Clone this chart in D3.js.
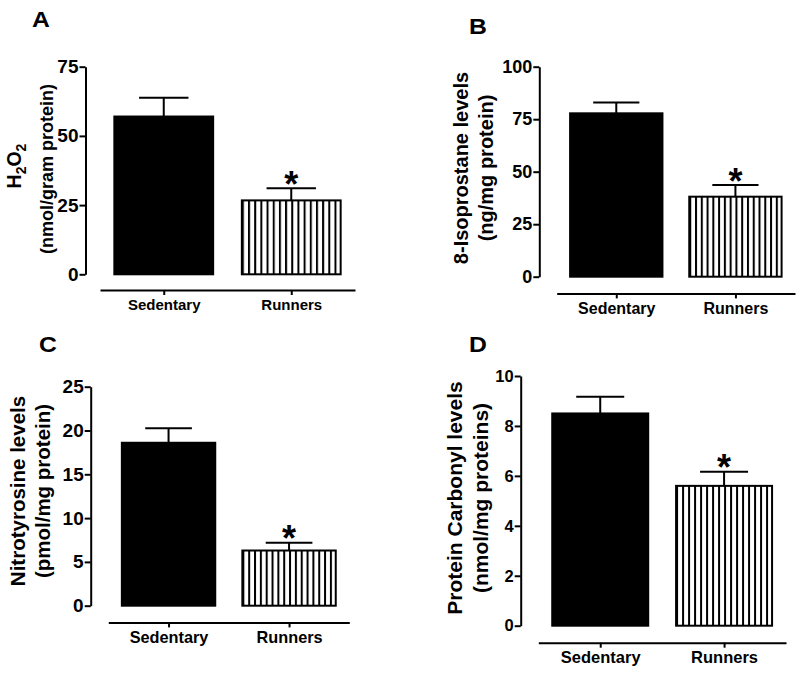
<!DOCTYPE html>
<html>
<head>
<meta charset="utf-8">
<script src="https://cdn.jsdelivr.net/npm/d3@7"></script>
<style>
  html, body { margin: 0; padding: 0; background: #fff; }
  svg { display: block; }
  text { font-family: "Liberation Sans", Arial, sans-serif; font-weight: bold; fill: #000; }
</style>
</head>
<body>
<svg id="chart" width="800" height="675"></svg>
<script>
// ---------- data ----------
const groups = ["Sedentary", "Runners"];
const panelLetters = ["A", "B", "C", "D"];

const meansA = [57.0, 26.7];
const semA   = [6.8, 4.4];
const ticksA = [0, 25, 50, 75];

const meansB = [77.8, 38.1];
const semB   = [5.1, 5.6];
const ticksB = [0, 25, 50, 75, 100];

const meansC = [18.6, 6.3];
const semC   = [1.65, 0.9];
const ticksC = [0, 5, 10, 15, 20, 25];

const meansD = [8.5, 5.6];
const semD   = [0.67, 0.57];
const ticksD = [0, 2, 4, 6, 8, 10];

const significant = [false, true];

// y-axis titles: line 1 as [text, isSubscript] segments, line 2 plain
const titleA = [[["H", false], ["2", true], ["O", false], ["2", true]], "(nmol/gram protein)"];
const titleB = [[["8-Isoprostane levels", false]], "(ng/mg protein)"];
const titleC = [[["Nitrotyrosine levels", false]], "(pmol/mg protein)"];
const titleD = [[["Protein Carbonyl levels", false]], "(nmol/mg proteins)"];

const panels = [
  { means: meansA, sem: semA, ticks: ticksA, title: titleA },
  { means: meansB, sem: semB, ticks: ticksB, title: titleB },
  { means: meansC, sem: semC, ticks: ticksC, title: titleC },
  { means: meansD, sem: semD, ticks: ticksD, title: titleD }
];

// ---------- layout ----------
const layout = [
  { yx: 85.5,  y0: 274.3, y1: 66.7,  xy: 290.0, xr: [100, 355],     letter: [32, 27],    cy: 169, cy1: 166, tx1: 21,    tx2: 52.5, tfs1: 19.5, tfs: 18,   tickFs: 19,   xFs: 15 },
  { yx: 539.3, y0: 276.7, y1: 66.7,  xy: 293.4, xr: [556.7, 795],   letter: [469, 33.5], cy: 168, cy1: 168, tx1: 467.5, tx2: 493,  tfs1: 20,   tfs: 20,   tickFs: 18,   xFs: 16 },
  { yx: 90.7,  y0: 605.7, y1: 386.7, xy: 622.4, xr: [108.3, 349.3], letter: [39, 351.5], cy: 491, cy1: 491, tx1: 25,    tx2: 50,   tfs1: 20.5, tfs: 20.5, tickFs: 19,   xFs: 16.3 },
  { yx: 520.7, y0: 625.7, y1: 376,   xy: 642.7, xr: [538.3, 786],   letter: [469, 352],  cy: 498, cy1: 498, tx1: 461.5, tx2: 488,  tfs1: 21,   tfs: 21,   tickFs: 16.5, xFs: 16.5 }
];

const svg = d3.select("#chart");
svg.append("rect").attr("width", 800).attr("height", 675).attr("fill", "#fff");
const defs = svg.append("defs");

panels.forEach((p, i) => {
  const L = layout[i];
  const g = svg.append("g");

  const y = d3.scaleLinear()
    .domain([0, d3.max(p.ticks)])
    .range([L.y0, L.y1]);
  const x = d3.scalePoint()
    .domain(groups)
    .range(L.xr)
    .padding(0.5);
  const barW = x.step() * 0.775;

  // panel letter (slightly wide lettering as in the original)
  g.append("text")
    .attr("transform", `translate(${L.letter[0]},${L.letter[1]}) scale(1.15,1)`)
    .attr("font-size", 21.5)
    .text(panelLetters[i]);

  // y axis
  const ya = g.append("g")
    .attr("transform", `translate(${L.yx},0)`)
    .call(d3.axisLeft(y).tickValues(p.ticks).tickSize(6).tickSizeOuter(0).tickPadding(1));
  ya.selectAll("path, line").attr("stroke", "#000").attr("stroke-width", 2);
  ya.selectAll("text")
    .attr("font-size", L.tickFs)
    .attr("font-family", "'Liberation Sans', Arial, sans-serif")
    .attr("font-weight", "bold")
    .attr("fill", "#000");

  // x axis (detached)
  const xa = g.append("g")
    .attr("transform", `translate(0,${L.xy})`)
    .call(d3.axisBottom(x).tickSize(5).tickSizeOuter(0).tickPadding(4));
  xa.selectAll("path, line").attr("stroke", "#000").attr("stroke-width", 2);
  xa.selectAll("text")
    .attr("font-size", L.xFs)
    .attr("font-family", "'Liberation Sans', Arial, sans-serif")
    .attr("font-weight", "bold")
    .attr("fill", "#000");

  // stripe pattern for the Runners bar
  const rx = x(groups[1]) - barW / 2;
  const period = barW / 16;
  const pat = defs.append("pattern")
    .attr("id", "stripes" + i)
    .attr("patternUnits", "userSpaceOnUse")
    .attr("x", rx).attr("y", 0)
    .attr("width", period).attr("height", 10);
  pat.append("rect").attr("width", period).attr("height", 10).attr("fill", "#fff");
  pat.append("rect").attr("x", 0).attr("width", 2).attr("height", 10).attr("fill", "#000");

  const data = groups.map((gname, k) => ({ g: gname, m: p.means[k], e: p.sem[k], sig: significant[k], k }));

  // error bars (upper only)
  g.selectAll(".err").data(data).enter().append("line")
    .attr("x1", d => x(d.g)).attr("x2", d => x(d.g))
    .attr("y1", d => y(d.m)).attr("y2", d => y(d.m + d.e))
    .attr("stroke", "#000").attr("stroke-width", 2);
  g.selectAll(".cap").data(data).enter().append("line")
    .attr("x1", d => x(d.g) - barW * 0.25).attr("x2", d => x(d.g) + barW * 0.25)
    .attr("y1", d => y(d.m + d.e)).attr("y2", d => y(d.m + d.e))
    .attr("stroke", "#000").attr("stroke-width", 2);

  // bars
  g.selectAll(".bar").data(data).enter().append("rect")
    .attr("x", d => x(d.g) - barW / 2)
    .attr("width", barW)
    .attr("y", d => y(d.m))
    .attr("height", d => y(0) - y(d.m))
    .attr("fill", d => d.k === 0 ? "#000" : `url(#stripes${i})`)
    .attr("stroke", "#000").attr("stroke-width", 2);

  // significance asterisk
  const fsAst = 36;
  g.selectAll(".ast").data(data.filter(d => d.sig)).enter().append("text")
    .attr("x", d => x(d.g))
    .attr("y", d => y(d.m + d.e) - 11.5 + 0.56 * fsAst)
    .attr("text-anchor", "middle")
    .attr("font-size", fsAst)
    .text("*");

  // y title (two lines, rotated)
  const t1 = g.append("text")
    .attr("transform", `translate(${L.tx1},${L.cy1}) rotate(-90)`)
    .attr("text-anchor", "middle")
    .attr("font-size", L.tfs1);
  let shifted = false;
  p.title[0].forEach(([s, sub]) => {
    const ts = t1.append("tspan").text(s);
    if (sub) { ts.attr("dy", 5).attr("font-size", L.tfs1 * 0.72); shifted = true; }
    else if (shifted) { ts.attr("dy", -5); shifted = false; }
  });
  g.append("text")
    .attr("transform", `translate(${L.tx2},${L.cy}) rotate(-90)`)
    .attr("text-anchor", "middle")
    .attr("font-size", L.tfs)
    .text(p.title[1]);
});
</script>
</body>
</html>
